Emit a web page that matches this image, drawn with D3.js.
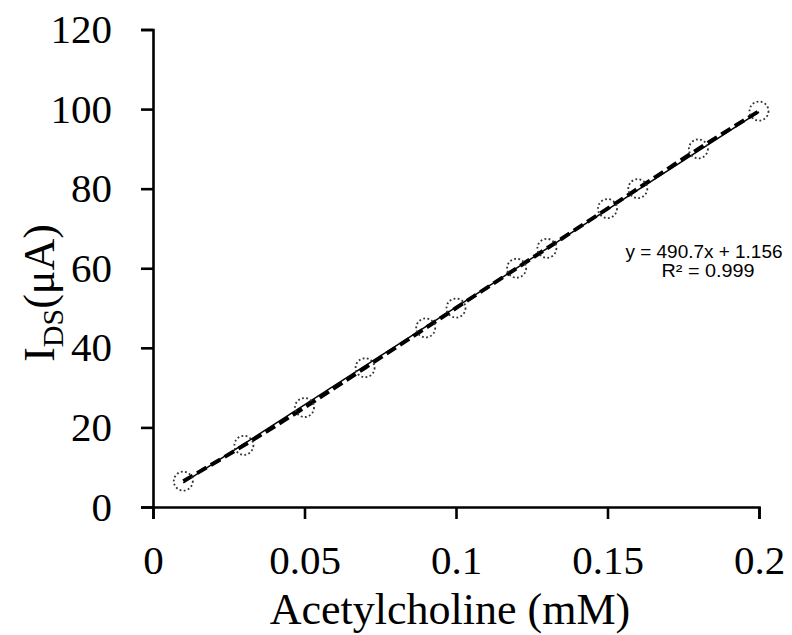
<!DOCTYPE html>
<html><head><meta charset="utf-8">
<script src="https://cdn.jsdelivr.net/npm/d3@7"></script>
<style>body{margin:0;background:#fff}</style>
</head><body>
<svg id="c" width="792" height="635"></svg>
<script>
const concentrations = [0.01, 0.03, 0.05, 0.07, 0.09, 0.10, 0.12, 0.13, 0.15, 0.16, 0.18, 0.20];
const currents = [6.5, 15.5, 25, 35, 45, 50, 60, 65, 75, 80, 90, 99.5];
const xTicks = [0, 0.05, 0.1, 0.15, 0.2];
const xTickLabels = ["0", "0.05", "0.1", "0.15", "0.2"];
const yTicks = [0, 20, 40, 60, 80, 100, 120];
const fitSlope = 490.7, fitIntercept = 1.156;
const fitText = ["y = 490.7x + 1.156", "R² = 0.999"];

const svg = d3.select("#c");
const x = d3.scaleLinear().domain([0, 0.2]).range([153, 759]);
const y = d3.scaleLinear().domain([0, 120]).range([507, 29.5]);
const serif = "'Liberation Serif','Times New Roman',serif";

const xa = svg.append("g").attr("transform", "translate(0,507)")
  .call(d3.axisBottom(x).tickValues(xTicks).tickFormat((d,i)=>xTickLabels[i]).tickSizeOuter(0).tickSize(12).tickPadding(26));
const ya = svg.append("g").attr("transform", "translate(153,0)")
  .call(d3.axisLeft(y).tickValues(yTicks).tickSizeOuter(0).tickSize(12).tickPadding(29));
[xa, ya].forEach(g => {
  g.selectAll("path,line").attr("stroke", "#000").attr("stroke-width", 2.6);
  g.selectAll("text").attr("font-family", serif).attr("font-size", 41).attr("fill", "#000");
});

// trendline
svg.append("line")
  .attr("x1", x(0.01)).attr("y1", y(fitSlope*0.01 + fitIntercept))
  .attr("x2", x(0.2)).attr("y2", y(fitSlope*0.2 + fitIntercept))
  .attr("stroke", "#000").attr("stroke-width", 1.5);

// dashed data line
const pts = concentrations.map((c,i)=>[c, currents[i]]);
svg.append("path").datum(pts)
  .attr("d", d3.line().x(d=>x(d[0])).y(d=>y(d[1])).curve(d3.curveMonotoneX))
  .attr("fill", "none").attr("stroke", "#000").attr("stroke-width", 4)
  .attr("stroke-dasharray", "11,5");

// markers
svg.selectAll("circle.m").data(pts).enter().append("circle")
  .attr("cx", d=>x(d[0])).attr("cy", d=>y(d[1])).attr("r", 9.5)
  .attr("fill", "none").attr("stroke", "#333").attr("stroke-width", 1.8)
  .attr("stroke-dasharray", "1.8,2.4");

// fit text
const fitLens = [157, 93];
svg.selectAll("text.fit").data(fitText).enter().append("text")
  .attr("x", (d,i)=> i===0 ? 704 : 708).attr("y", (d,i)=>258 + i*19)
  .attr("text-anchor", "middle")
  .attr("font-family", "'Liberation Sans',Arial,sans-serif").attr("font-size", 18)
  .attr("textLength", (d,i)=>fitLens[i]).attr("lengthAdjust", "spacingAndGlyphs")
  .text(d=>d);

// x title
svg.append("text").attr("x", 450).attr("y", 624).attr("text-anchor", "middle")
  .attr("font-family", serif).attr("font-size", 44).text("Acetylcholine (mM)");

// y title
const yt = svg.append("text").attr("transform", "translate(54,293) rotate(-90)")
  .attr("text-anchor", "middle").attr("font-family", serif).attr("font-size", 44);
yt.append("tspan").text("I");
yt.append("tspan").attr("font-size", 30).attr("dy", 9).text("DS");
yt.append("tspan").attr("dy", -9).text("(μA)");
</script>
</body></html>
